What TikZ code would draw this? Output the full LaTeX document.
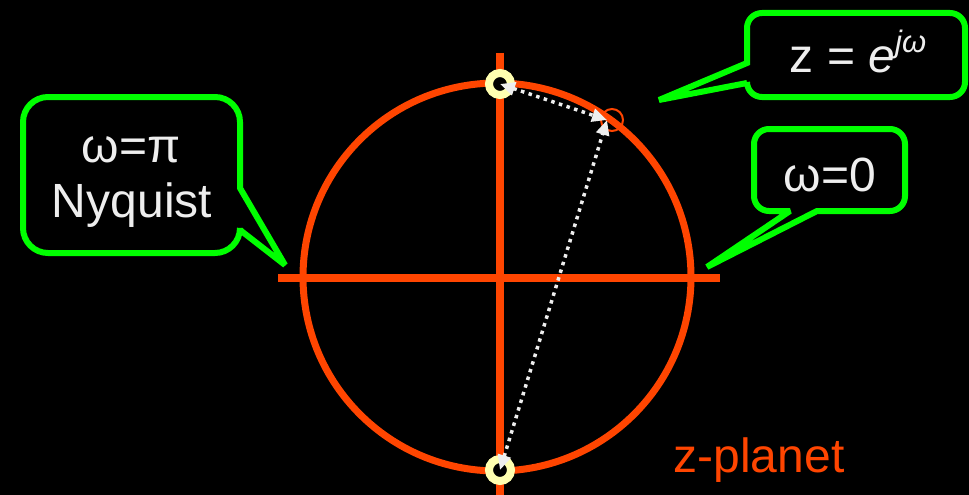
\documentclass[tikz,border=0pt]{standalone}
\usepackage{fontspec}
\setmainfont{Liberation Sans}
\usetikzlibrary{arrows.meta}
\definecolor{zred}{HTML}{FF4500}
\definecolor{zgreen}{HTML}{00FF00}
\definecolor{ztext}{HTML}{EEEEEE}
\definecolor{zring}{HTML}{FFFFB0}
\begin{document}
\begin{tikzpicture}[x=1pt,y=-1pt,
  axisline/.style={draw=zred,line width=8pt},
  unitcirc/.style={draw=zred,line width=7pt},
  ringmark/.style={circle,draw=zring,fill=black,line width=8pt,minimum size=22pt,inner sep=0pt},
  pointmark/.style={circle,draw=zred,line width=2pt,minimum size=22pt,inner sep=0pt},
  dotarrow/.style={draw=ztext,line width=3.5pt,dash pattern=on 3.5pt off 4.5pt,
    {Triangle[length=15pt,width=13pt]}-{Triangle[length=15pt,width=13pt]}},
  callout/.style={draw=zgreen,line width=6pt,fill=black,miter limit=2},
  bigtext/.style={text=ztext,font=\fontsize{48}{52}\selectfont,inner sep=0pt},
  redtext/.style={text=zred,font=\fontsize{48}{52}\selectfont,inner sep=0pt}
]
\fill[black] (0,0) rectangle (969,495);
\useasboundingbox (0,0) rectangle (969,495);

% axes and unit circle
\coordinate (O) at (497,277);
\coordinate (hl) at (278,278);
\coordinate (hr) at (720,278);
\coordinate (vt) at (500,53);
\coordinate (vb) at (500,495);
\draw[axisline] (hl) -- (hr);
\draw[axisline] (vt) -- (vb);
\draw[unitcirc] (O) circle[radius=194pt];

% marks
\node[pointmark] (P) at (612,120) {};
\coordinate (tipP) at (607,120);
\node[ringmark] (topring) at (500,84) {};
\node[ringmark] (botring) at (500,470) {};

% dotted arrows
\draw[dotarrow] (topring.center) -- (tipP);
\draw[dotarrow] (botring.center) -- (tipP);

% callout z = e^{j omega}
\draw[callout] (747,63) [rounded corners=15pt] |- (965,13) |- (747,97)
  [sharp corners] -- (747,83) -- (659,100) -- cycle;
\node[bigtext,anchor=base] (zlabel) at (858,73)
  {z = \textit{e}\raisebox{0.42em}{\fontsize{31}{31}\selectfont\textit{jω}}};

% callout omega = pi, Nyquist
\draw[callout] (240,188) [rounded corners=25pt] |- (23,97) |- (240,253)
  [sharp corners] -- (240,230) -- (285,265) -- cycle;
\node[bigtext,anchor=base] (pilabel) at (131,162) {ω=π};
\node[bigtext,anchor=base] (nyqlabel) at (132,217) {Nyquist};

% callout omega = 0
\draw[callout] (790,211) [rounded corners=15pt] -| (754,129) -| (905,211)
  [sharp corners] -- (817,211) -- (707,267) -- cycle;
\node[bigtext,anchor=base] (zerolabel) at (830,191) {ω=0};

% plane label
\node[redtext,anchor=base] (plane) at (759,472) {z-planet};
\end{tikzpicture}
\end{document}
